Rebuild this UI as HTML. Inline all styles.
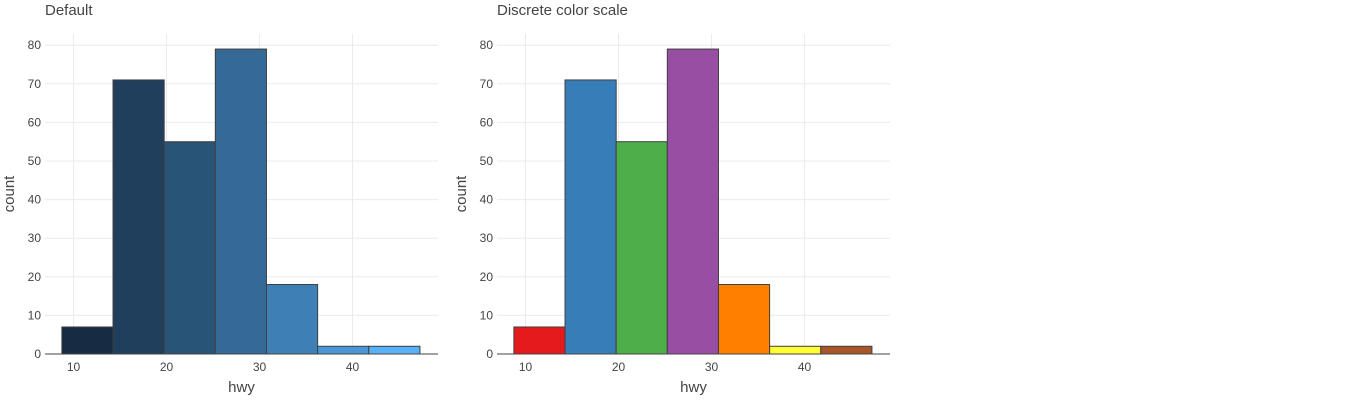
<!DOCTYPE html>
<html><head><meta charset="utf-8"><style>
body{margin:0;background:#fff;width:1361px;height:400px;overflow:hidden;font-family:"Liberation Sans",Arial,sans-serif}
svg text{font-family:"Liberation Sans",Arial,sans-serif}
</style></head><body>
<svg id="chart" width="1361" height="400" xmlns="http://www.w3.org/2000/svg"></svg>
<script>
const binStart = 8.75;
const binWidth = 5.5;
const counts = [7, 71, 55, 79, 18, 2, 2];
const xTicks = [10, 20, 30, 40];
const yTicks = [0, 10, 20, 30, 40, 50, 60, 70, 80];
const panelTitles = ["Default", "Discrete color scale"];
const defaultColors = ["#172b43", "#1f3f5d", "#285577", "#346a95", "#3e80b6", "#4a96d6", "#56b1f7"];
const discreteColors = ["#e41a1c", "#377eb8", "#4daf4a", "#984ea3", "#ff7f00", "#ffff33", "#a65628"];

const svg = document.getElementById('chart');
const NS = "http://www.w3.org/2000/svg";
function mk(tag, attrs, parent){const e=document.createElementNS(NS,tag);for(const k in attrs)e.setAttribute(k,attrs[k]);(parent||svg).appendChild(e);return e;}

function drawPanel(p, offset, colors){
  const left = 45 + offset, right = 438 + offset, top = 34, bottom = 354;
  const xs = v => 73.5 + offset + (v - 10) * 9.3;
  const ys = v => 354 - v * 3.86;
  const g = mk('g', {});
  
  
  yTicks.forEach(t => {
    const l = mk('line', {x1:left, x2:right, y1:ys(t), y2:ys(t), stroke:'#ebebeb', 'stroke-width':1}, g);
    
    
    const tx = mk('text', {x:left-4, y:ys(t)+4, 'text-anchor':'end', 'font-size':12, fill:'#444'}, g);
    tx.textContent = t;
    
    
  });
  xTicks.forEach(t => {
    const l = mk('line', {x1:xs(t), x2:xs(t), y1:top, y2:bottom, stroke:'#ebebeb', 'stroke-width':1}, g);
    
    
    const tx = mk('text', {x:xs(t), y:bottom+17, 'text-anchor':'middle', 'font-size':12, fill:'#444'}, g);
    tx.textContent = t;
    
    
  });
  counts.forEach((c, i) => {
    const x0 = xs(binStart + i*binWidth), x1 = xs(binStart + (i+1)*binWidth);
    const r = mk('rect', {x:x0, y:ys(c), width:x1-x0, height:ys(0)-ys(c), fill:colors[i], stroke:'#3f3f3f', 'stroke-width':1}, g);
    
    
  });
  const ax = mk('line', {x1:left, x2:right, y1:bottom, y2:bottom, stroke:'#444', 'stroke-width':1}, g);
  
  
  const xt = mk('text', {x:(left+right)/2, y:392, 'text-anchor':'middle', 'font-size':15, fill:'#444'}, g);
  xt.textContent = 'hwy';
  
  
  const yt = mk('text', {x:0, y:0, 'text-anchor':'middle', 'font-size':15, fill:'#444', transform:`translate(${14+offset},194) rotate(-90)`}, g);
  yt.textContent = 'count';
  
  
  const tt = mk('text', {x:left, y:15, 'font-size':15, fill:'#444'}, g);
  tt.textContent = panelTitles[p];
  
  
}
drawPanel(0, 0, defaultColors);
drawPanel(1, 452, discreteColors);
</script>
</body></html>
